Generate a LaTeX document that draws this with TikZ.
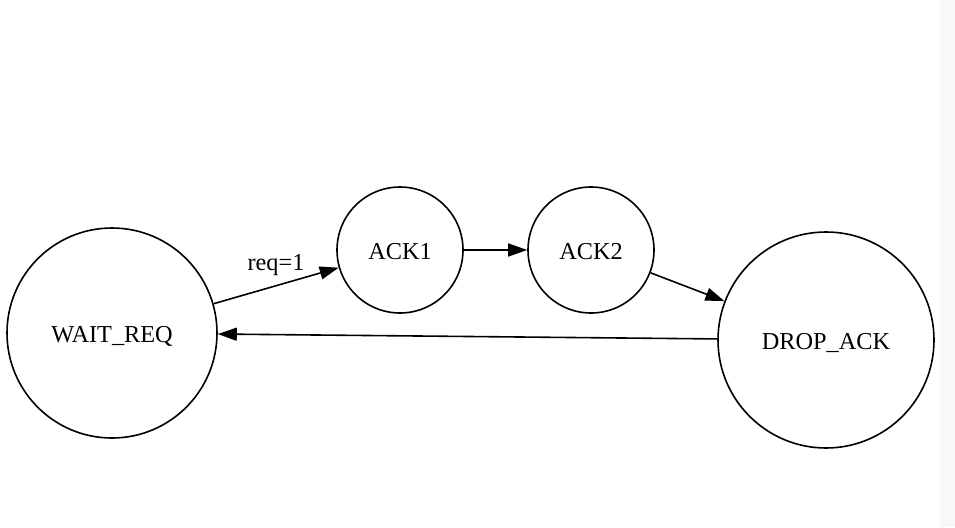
\documentclass[tikz,border=0pt]{standalone}
\usepackage{fontspec}
\setmainfont{Liberation Serif}
\usetikzlibrary{arrows.meta}
\definecolor{stripgray}{RGB}{248,248,248}
\begin{document}
\begin{tikzpicture}[x=1pt,y=-1pt,
  state/.style={circle,draw,line width=1.6pt,minimum size=#1,inner sep=0pt,
    text height=18pt,text depth=0pt,
    font=\fontsize{24.3}{28}\selectfont},
  trans/.style={draw,line width=1.6pt,-{Triangle[length=19pt,width=13pt]}},
  lbl/.style={font=\fontsize{24.3}{28}\selectfont,inner sep=0pt}]
  \useasboundingbox (0,0) rectangle (955,527);
  \fill[stripgray] (940,0) rectangle (955,527);

  \node[state=210pt] (wait) at (112,333) {WAIT\_REQ};
  \node[state=126pt] (ack1) at (400,250) {ACK1};
  \node[state=126pt] (ack2) at (591,250) {ACK2};
  \node[state=216pt] (drop) at (826,340) {DROP\_ACK};

  \draw[trans] (wait) -- (ack1);
  \node[lbl] (reqlbl) at (276,265) {req=1};
  \draw[trans] (ack1) -- (ack2);
  \draw[trans] (ack2) -- (drop);
  \draw[trans] (drop) -- (wait);
\end{tikzpicture}
\end{document}
